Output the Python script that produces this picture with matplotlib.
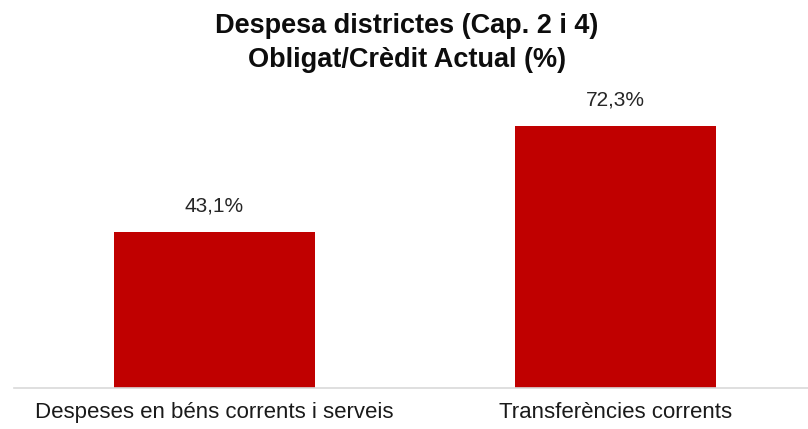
import matplotlib.pyplot as plt

plt.rcParams['font.family'] = ['Liberation Sans', 'DejaVu Sans']

# dades
categories = ["Despeses en béns corrents i serveis", "Transferències corrents"]
values = [43.1, 72.3]
labels = ["43,1%", "72,3%"]
title_lines = ["Despesa districtes (Cap. 2 i 4)", "Obligat/Crèdit Actual (%)"]

fig = plt.figure(figsize=(8.08, 4.29), dpi=100)
ax = fig.add_axes([14 / 808, 41 / 429, 794 / 808, 290.4 / 429])

x = range(len(categories))
bars = ax.bar(x, values, width=0.5, color="#C00000")
ax.set_xlim(-0.5, 1.48)
ax.set_ylim(0, 80)

for b, lab in zip(bars, labels):
    ax.text(b.get_x() + b.get_width() / 2, b.get_height() + 4.3, lab,
            ha="center", va="bottom", fontsize=15, color="#262626")

ax.set_xticks(list(x))
ax.set_xticklabels(categories, fontsize=16, color="#1a1a1a")
ax.tick_params(axis="x", length=0, pad=10)
ax.set_yticks([])
for s in ["top", "right", "left"]:
    ax.spines[s].set_visible(False)
ax.spines["bottom"].set_color("#d9d9d9")
ax.spines["bottom"].set_linewidth(1.2)

# titol en dues linies
for t, ypix in zip(title_lines, [33, 67]):
    fig.text(407 / 808, 1 - ypix / 429, t, ha="center", va="baseline",
             fontsize=19.5, fontweight="bold", color="#0d0d0d")

fig.savefig("out.png", dpi=100)
